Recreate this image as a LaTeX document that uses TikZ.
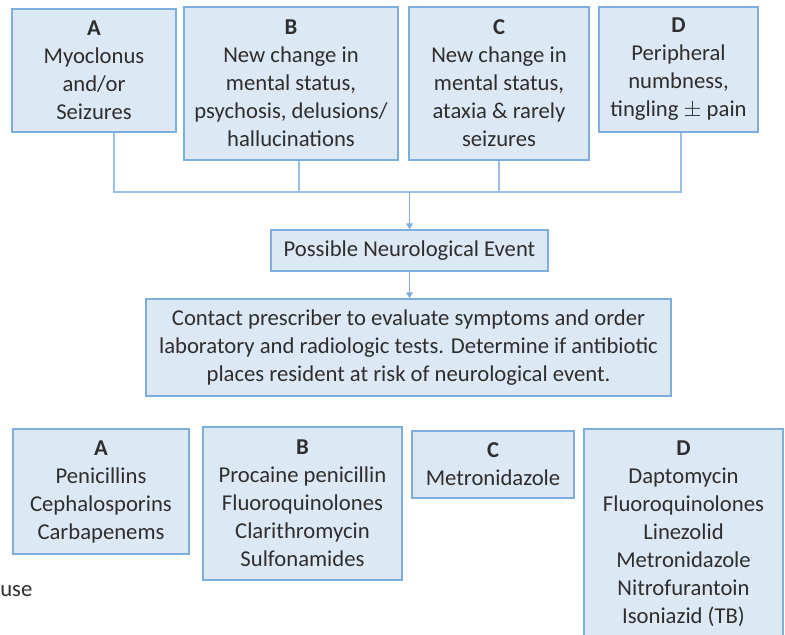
\documentclass[tikz,border=0pt]{standalone}
\usepackage{fontspec}
\setmainfont{Carlito}
\usepackage{tikz}
\usetikzlibrary{arrows.meta}
\usetikzlibrary{fit}
\definecolor{boxfill}{RGB}{221,232,245}
\definecolor{boxline}{RGB}{125,174,222}
\definecolor{linkline}{RGB}{152,192,232}

\begin{document}
\begin{tikzpicture}[x=0.75pt,y=-0.75pt,
		box/.style={draw=boxline, fill=boxfill, line width=1pt, inner sep=0pt},
		txt/.style={align=center, inner sep=0pt, font=\fontsize{17}{21}\selectfont, text=black!82},
		link/.style={draw=linkline, line width=0.8pt},
		arrow/.style={-{Triangle[length=4.5pt,width=5pt]}, draw=boxline}]
		\useasboundingbox (0,0) rectangle (785,635);
		% symptoms
		\node[box, fit={(12,9)(176,132)}](topA){};
		\node[box, fit={(184,7)(398,160)}](topB){};
		\node[box, fit={(409,7)(589,160)}](topC){};
		\node[box, fit={(599,7)(758,132)}](topD){};
		\node[txt] at (topA){\textbf{A}\\Myoclonus\\and/or\\Seizures};
		\node[txt] at (topB){\textbf{B}\\New change in\\mental status,\\psychosis, delusions/\\hallucinations};
		\node[txt] at (topC){\textbf{C}\\New change in\\mental status,\\ataxia \& rarely\\seizures};
		\node[txt] at (topD){\textbf{D}\\Peripheral\\numbness,\\tingling $\pm$ pain};
		\node[box, fit={(271,230)(548,271)}](event){};
		\node[txt] at (event){Possible Neurological Event};
		\node[box, fit={(146,299)(671,396)}](contact){};
		\node[txt] at (contact){Contact prescriber to evaluate symptoms and order\\laboratory and radiologic tests. Determine if antibiotic\\places resident at risk of neurological event.};
		% antibiotics
		\node[box, fit={(13,429)(189,554)}](drugA){};
		\node[box, fit={(203,427)(402,580)}](drugB){};
		\node[box, fit={(412,431)(574,498)}](drugC){};
		\node[box, fit={(584,429)(783,638)}](drugD){};
		\node[txt] at (drugA){\textbf{A}\\Penicillins\\Cephalosporins\\Carbapenems};
		\node[txt] at (drugB){\textbf{B}\\Procaine penicillin\\Fluoroquinolones\\Clarithromycin\\Sulfonamides};
		\node[txt] at (drugC){\textbf{C}\\Metronidazole};
		\node[txt] at (drugD){\textbf{D}\\Daptomycin\\Fluoroquinolones\\Linezolid\\Metronidazole\\Nitrofurantoin\\Isoniazid (TB)};
		\node[txt, anchor=west] (cut) at (0,591) {use};
		% connectors
		\coordinate (busA) at (114,192);
		\coordinate (busB) at (299,192);
		\coordinate (busD) at (681,192);
		\draw[link] (busA |- topA.south) -- (busA) -- (busD) -- (busD |- topD.south);
		\draw[link] (busB |- topB.south) -- (busB);
		\draw[link] (topC.south) -- (topC.south |- busA);
		\draw[link, arrow] (busA -| event.north) -- (event.north);
		\draw[link, arrow] (event.south) -- (event.south |- contact.north);
\end{tikzpicture}
\end{document}
